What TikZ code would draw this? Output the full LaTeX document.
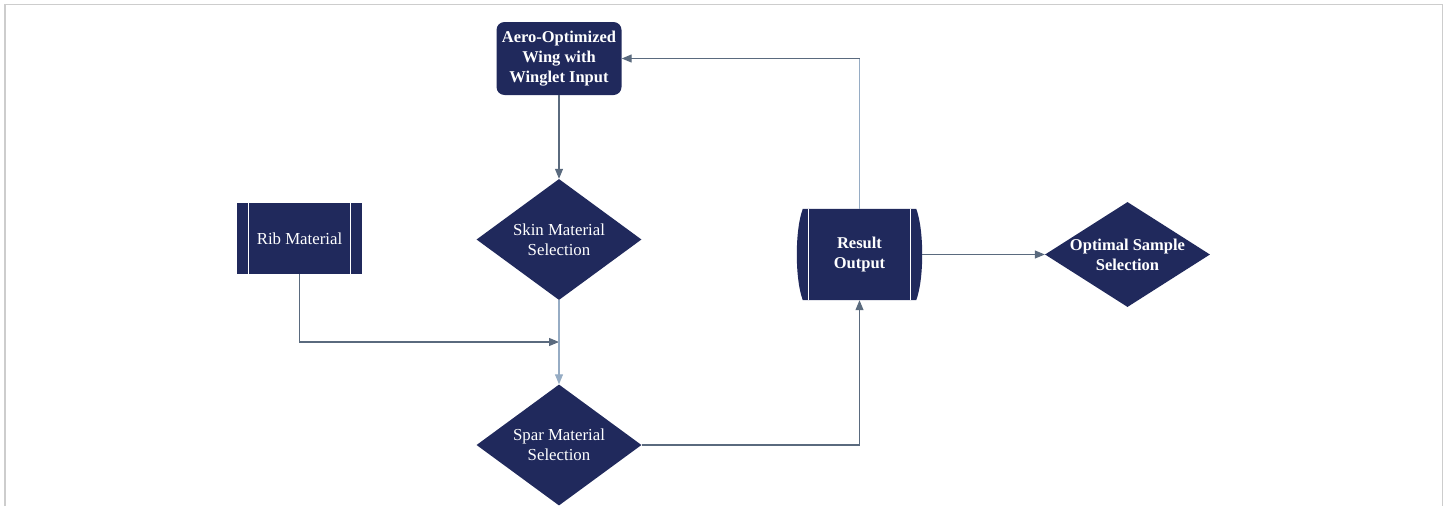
\documentclass[tikz,border=0pt]{standalone}
\usepackage{fontspec}
\setmainfont{Liberation Serif}
\usetikzlibrary{shapes.geometric,arrows.meta}
\definecolor{navy}{RGB}{32,41,92}
\definecolor{lineD}{RGB}{90,106,126}
\definecolor{lineL}{RGB}{150,172,196}
\definecolor{frameC}{RGB}{205,205,205}
\begin{document}
\begin{tikzpicture}[x=1pt,y=-1pt,
  base/.style={fill=navy,draw=none,text=white,font=\fontsize{16.8}{20}\selectfont,align=center,inner sep=0pt},
  boldbase/.style={base,font=\fontsize{16.5}{20}\selectfont\bfseries},
  txt/.style={text=white,font=\fontsize{16.8}{20}\selectfont,align=center,inner sep=0pt},
  boldtxt/.style={txt,font=\fontsize{16.5}{20}\selectfont\bfseries},
  dia/.style={shape=diamond,fill=navy,draw=none,inner sep=0pt,minimum width=165pt,minimum height=121pt},
  conn/.style={draw=lineD,line width=1.1pt,-{Triangle[length=10pt,width=8pt]}},
  connL/.style={draw=lineL,line width=1.1pt,-{Triangle[length=10pt,width=8pt]}},
  plain/.style={draw=lineL,line width=1.1pt},
  sep/.style={draw=white,line width=1pt}]
\useasboundingbox (0,0) rectangle (1450,506);
\draw[frameC,line width=1.2pt] (5,506) -- (5,4.6) -- (1442.5,4.6) -- (1442.5,506);

% nodes
\node[boldbase,rectangle,rounded corners=8pt,minimum width=125pt,minimum height=73pt] (aero) at (559,58.5) {Aero-Optimized\\Wing with\\Winglet Input};
\node[dia] (skin) at (559,239.5) {};
\node[txt] (skintext) at (skin.center) {Skin Material\\Selection};
\node[dia] (spar) at (559,445) {};
\node[txt] (spartext) at (spar.center) {Spar Material\\Selection};
\node[base,rectangle,minimum width=125pt,minimum height=71pt] (rib) at (299.5,238.5) {Rib Material};
\node[rectangle,inner sep=0pt,minimum width=125pt,minimum height=91pt] (res) at (859.5,254.5) {};
\node[dia,minimum height=105pt] (opt) at (1127.5,254.5) {};
\node[boldtxt] (opttext) at (opt.center) {Optimal Sample\\Selection};

% rib separators
\draw[sep] ([xshift=12pt]rib.north west) -- ([xshift=12pt]rib.south west);
\draw[sep] ([xshift=-12pt]rib.north east) -- ([xshift=-12pt]rib.south east);

% result output shape
\fill[navy] ([xshift=6pt]res.north west) -- ([xshift=-6pt]res.north east)
  .. controls ([xshift=2pt,yshift=-21pt]res.north east) and ([xshift=2pt,yshift=21pt]res.south east) .. ([xshift=-6pt]res.south east)
  -- ([xshift=6pt]res.south west)
  .. controls ([xshift=-2pt,yshift=21pt]res.south west) and ([xshift=-2pt,yshift=-21pt]res.north west) .. cycle;
\draw[sep] ([xshift=12pt]res.north west) -- ([xshift=12pt]res.south west);
\draw[sep] ([xshift=-12pt]res.north east) -- ([xshift=-12pt]res.south east);
\node[boldtxt] (restext) at (res.center) {Result\\Output};

% connectors
\coordinate (top) at (res.north |- aero.east);
\draw[plain] (res.north) -- (top);
\draw[conn] (top) -- (aero.east);
\draw[conn] (aero.south) -- (skin.north);
\coordinate (j) at (559,342);
\draw[conn] (rib.south) |- (j);
\draw[connL] (skin.south) -- (spar.north);
\draw[conn] (spar.east) -| (res.south);
\draw[conn] (res.east) -- (opt.west);
\end{tikzpicture}
\end{document}
